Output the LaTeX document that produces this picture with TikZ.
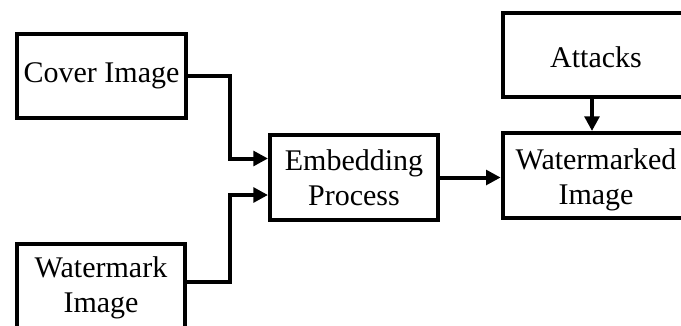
\documentclass[tikz,border=0pt]{standalone}
\usepackage{fontspec}
\setmainfont{Liberation Serif}
\usetikzlibrary{arrows.meta,calc}
\begin{document}
\begin{tikzpicture}[x=0.75pt,y=-0.75pt,
  blk/.style={draw=black,line width=3pt,rectangle,inner sep=0pt,align=center,
    font=\fontsize{22.5}{26.5}\selectfont},
  link/.style={line width=3pt,-{Triangle[length=11pt,width=11pt]}}]
\useasboundingbox (0,0) rectangle (681,325);
\clip (0,0) rectangle (681,325);
% blocks
\node[blk,minimum width=126.75pt,minimum height=63pt] (cover) at (101.5,76) {Cover Image};
\node[blk,minimum width=126pt,minimum height=66pt] (wm) at (101,288) {Watermark\\Image};
\node[blk,minimum width=126pt,minimum height=63.75pt] (emb) at (354,177.5) {Embedding\\Process};
\node[blk,minimum width=140pt,minimum height=63.75pt] (out) at (596,175.5)
  {\raisebox{-3.5pt}[\height][\depth]{\begin{tabular}{@{}c@{}}Watermarked\\Image\end{tabular}}};
\node[blk,minimum width=140pt,minimum height=63pt] (att) at (596,55)
  {\raisebox{-2pt}[\height][\depth]{Attacks}};
% connectors
\coordinate (j) at (230,0);
\draw[link] (cover.east) -- (cover.east -| j) |- ($(emb.west)+(0,-19)$);
\draw[link] (wm.east) ++(0,-6) coordinate (w0) -- (w0 -| j) |- ($(emb.west)+(0,17.5)$);
\draw[link] (emb.east) -- (out.west |- emb.east);
\draw[link] (att.south -| 592,0) -- (out.north -| 592,0);
\end{tikzpicture}
\end{document}
